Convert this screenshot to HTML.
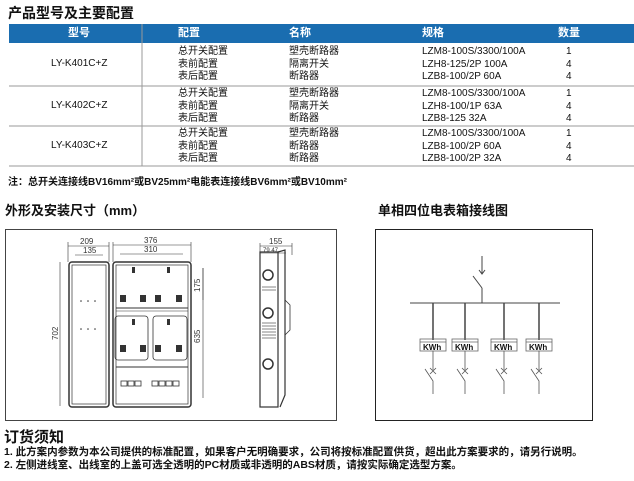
<!DOCTYPE html>
<html><head><meta charset="utf-8"><style>
body{margin:0;width:634px;height:481px;background:#fff;position:relative;overflow:hidden;font-family:"Liberation Sans","Noto Sans CJK SC",sans-serif;color:#111}
.t{position:absolute;white-space:nowrap;line-height:1}
.h{font-weight:bold}
.s{font-size:10px}
</style></head><body>
<div class="t h" style="left:8px;top:6px;font-size:14px">产品型号及主要配置</div>
<div style="position:absolute;left:9px;top:24px;width:625px;height:19px;background:#1a6db0"></div>
<div class="t h s" style="left:68px;top:28px;color:#fff;font-size:11px">型号</div>
<div class="t h s" style="left:178px;top:28px;color:#fff;font-size:11px">配置</div>
<div class="t h s" style="left:289px;top:28px;color:#fff;font-size:11px">名称</div>
<div class="t h s" style="left:422px;top:28px;color:#fff;font-size:11px">规格</div>
<div class="t h s" style="left:558px;top:28px;color:#fff;font-size:11px">数量</div>
<svg style="position:absolute;left:0;top:0" width="634" height="481">
<line x1="142" y1="24" x2="142" y2="166" stroke="#999"/>
<line x1="9" y1="86" x2="634" y2="86" stroke="#999"/>
<line x1="9" y1="126" x2="634" y2="126" stroke="#999"/>
<line x1="9" y1="166" x2="634" y2="166" stroke="#999"/>
</svg>
<div class="t s" style="left:51px;top:59px">LY-K401C+Z</div>
<div class="t s" style="left:51px;top:101px">LY-K402C+Z</div>
<div class="t s" style="left:51px;top:141px">LY-K403C+Z</div>
<div class="t s" style="left:178px;top:46px;line-height:12.5px">总开关配置<br>表前配置<br>表后配置</div>
<div class="t s" style="left:289px;top:46px;line-height:12.5px">塑壳断路器<br>隔离开关<br>断路器</div>
<div class="t s" style="left:422px;top:46px;line-height:12.5px">LZM8-100S/3300/100A<br>LZH8-125/2P 100A<br>LZB8-100/2P 60A</div>
<div class="t s" style="left:566px;top:46px;line-height:12.5px">1<br>4<br>4</div>
<div class="t s" style="left:178px;top:88px;line-height:12.5px">总开关配置<br>表前配置<br>表后配置</div>
<div class="t s" style="left:289px;top:88px;line-height:12.5px">塑壳断路器<br>隔离开关<br>断路器</div>
<div class="t s" style="left:422px;top:88px;line-height:12.5px">LZM8-100S/3300/100A<br>LZH8-100/1P 63A<br>LZB8-125 32A</div>
<div class="t s" style="left:566px;top:88px;line-height:12.5px">1<br>4<br>4</div>
<div class="t s" style="left:178px;top:128px;line-height:12.5px">总开关配置<br>表前配置<br>表后配置</div>
<div class="t s" style="left:289px;top:128px;line-height:12.5px">塑壳断路器<br>断路器<br>断路器</div>
<div class="t s" style="left:422px;top:128px;line-height:12.5px">LZM8-100S/3300/100A<br>LZB8-100/2P 60A<br>LZB8-100/2P 32A</div>
<div class="t s" style="left:566px;top:128px;line-height:12.5px">1<br>4<br>4</div>
<div class="t h" style="left:8px;top:178px;font-size:10px">注：总开关连接线BV16mm²或BV25mm²电能表连接线BV6mm²或BV10mm²</div>
<div class="t h" style="left:5px;top:204px;font-size:13px">外形及安装尺寸（mm）</div>
<div class="t h" style="left:378px;top:204px;font-size:13px">单相四位电表箱接线图</div>
<svg style="position:absolute;left:0;top:0" width="634" height="481" font-family="Liberation Sans" font-size="8" fill="none" stroke="#333">
<rect x="5.5" y="229.5" width="331" height="191" stroke="#444"/>
<rect x="375.5" y="229.5" width="217" height="191" stroke="#222"/>
<rect x="69" y="262" width="40" height="145" rx="3" stroke-width="1.5"/>
<rect x="72" y="265" width="34" height="139" stroke-width="0.7"/>
<rect x="113" y="262" width="78" height="145" rx="3" stroke-width="1.5"/>
<rect x="116" y="265" width="72" height="139" stroke-width="0.7"/>
<line x1="116" y1="308" x2="188" y2="308"/><line x1="116" y1="311" x2="188" y2="311" stroke-width="0.5"/>
<line x1="116" y1="367" x2="188" y2="367"/>
<rect x="115" y="316" width="33" height="44" rx="3" stroke-width="0.8"/>
<rect x="153" y="316" width="34" height="44" rx="3" stroke-width="0.8"/>
<g fill="#333" stroke="none">
<rect x="120" y="295" width="6" height="7"/><rect x="140" y="295" width="6" height="7"/><rect x="155" y="295" width="6" height="7"/><rect x="176" y="295" width="6" height="7"/>
<rect x="120" y="345" width="6" height="7"/><rect x="140" y="345" width="6" height="7"/><rect x="155" y="345" width="6" height="7"/><rect x="176" y="345" width="6" height="7"/>
<rect x="132" y="267" width="3" height="6"/><rect x="167" y="267" width="3" height="6"/>
<rect x="132" y="319" width="3" height="6"/><rect x="167" y="319" width="3" height="6"/>
<circle cx="81" cy="301" r="0.8"/><circle cx="88" cy="301" r="0.8"/><circle cx="95" cy="301" r="0.8"/>
<circle cx="81" cy="329" r="0.8"/><circle cx="88" cy="329" r="0.8"/><circle cx="95" cy="329" r="0.8"/>
</g>
<g stroke-width="0.8"><rect x="121" y="381" width="6" height="5"/><rect x="128" y="381" width="6" height="5"/><rect x="135" y="381" width="6" height="5"/>
<rect x="152" y="381" width="6" height="5"/><rect x="159" y="381" width="6" height="5"/><rect x="166" y="381" width="6" height="5"/><rect x="173" y="381" width="6" height="5"/></g>
<g stroke-width="0.6">
<line x1="68" y1="246" x2="109" y2="246"/><line x1="75" y1="255" x2="103" y2="255"/>
<line x1="113" y1="245" x2="191" y2="245"/><line x1="120" y1="254" x2="183" y2="254"/>
<line x1="60" y1="262" x2="60" y2="406"/><line x1="203" y1="268" x2="203" y2="300"/><line x1="203" y1="268" x2="203" y2="398"/>
<line x1="68" y1="242" x2="68" y2="262"/><line x1="109" y1="242" x2="109" y2="262"/><line x1="113" y1="242" x2="113" y2="262"/><line x1="191" y1="242" x2="191" y2="262"/>
<line x1="260" y1="246" x2="292" y2="246"/><line x1="260" y1="253" x2="286" y2="253"/>
<line x1="260" y1="243" x2="260" y2="255"/><line x1="292" y1="243" x2="292" y2="255"/>
</g>
<g fill="#333" stroke="none" font-size="8">
<text x="80" y="244">209</text><text x="83" y="253">135</text>
<text x="144" y="243">376</text><text x="144" y="252">310</text>
<text x="269" y="244">155</text><text x="263" y="252" font-size="6">79 47</text>
<text transform="translate(58,340) rotate(-90)">702</text>
<text transform="translate(200,292) rotate(-90)">175</text>
<text transform="translate(200,343) rotate(-90)">635</text>
</g>
<rect x="260" y="252" width="18" height="155" stroke-width="1.2"/>
<path d="M278 252 L285 250 L285 395 L280 407" stroke-width="1.2"/>
<path d="M285 300 L290 305 L290 330 L285 335" stroke-width="0.8"/>
<g stroke-width="1.5"><circle cx="268" cy="275" r="5"/><circle cx="268" cy="313" r="5"/><circle cx="268" cy="364" r="5"/></g>
<g stroke-width="0.6"><line x1="262" y1="287" x2="276" y2="287"/><line x1="262" y1="290" x2="276" y2="290"/>
<line x1="262" y1="323" x2="276" y2="323"/><line x1="262" y1="326" x2="276" y2="326"/><line x1="262" y1="329" x2="276" y2="329"/><line x1="262" y1="332" x2="276" y2="332"/><line x1="262" y1="335" x2="276" y2="335"/><line x1="262" y1="338" x2="276" y2="338"/></g>
<g stroke="#444" stroke-width="1">
<line x1="482" y1="256" x2="482" y2="274"/><path d="M479 270 L482 274 L485 270"/>
<line x1="473" y1="276" x2="482" y2="288"/><line x1="482" y1="288" x2="482" y2="303"/>
<line x1="410" y1="303" x2="560" y2="303"/>
<line x1="433" y1="303" x2="433" y2="340" stroke-width="1.5"/><line x1="465" y1="303" x2="465" y2="340" stroke-width="1.5"/>
<line x1="504" y1="303" x2="504" y2="340" stroke-width="1.5"/><line x1="539" y1="303" x2="539" y2="340" stroke-width="1.5"/>
</g>
<g stroke="#666" stroke-width="0.8">
<rect x="420" y="339" width="26" height="12"/><rect x="452" y="339" width="26" height="12"/><rect x="491" y="339" width="26" height="12"/><rect x="526" y="339" width="26" height="12"/>
<line x1="420" y1="342" x2="446" y2="342"/><line x1="452" y1="342" x2="478" y2="342"/><line x1="491" y1="342" x2="517" y2="342"/><line x1="526" y1="342" x2="552" y2="342"/>
</g>
<g fill="#111" stroke="none" font-size="8" font-weight="bold">
<text x="423" y="350">KWh</text><text x="455" y="350">KWh</text><text x="494" y="350">KWh</text><text x="529" y="350">KWh</text>
</g>
<g stroke="#555" stroke-width="0.8">
<path d="M433 351 V370 M430 368 L436 374 M436 368 L430 374 M425 369 L433 381 V394"/>
<path d="M465 351 V370 M462 368 L468 374 M468 368 L462 374 M457 369 L465 381 V394"/>
<path d="M504 351 V370 M501 368 L507 374 M507 368 L501 374 M496 369 L504 381 V394"/>
<path d="M539 351 V370 M536 368 L542 374 M542 368 L536 374 M531 369 L539 381 V394"/>
</g>
</svg>
<div class="t h" style="left:4px;top:430px;font-size:15px">订货须知</div>
<div class="t h" style="left:4px;top:447px;font-size:10.5px">1. 此方案内参数为本公司提供的标准配置，如果客户无明确要求，公司将按标准配置供货，超出此方案要求的，请另行说明。</div>
<div class="t h" style="left:4px;top:460px;font-size:10.5px">2. 左侧进线室、出线室的上盖可选全透明的PC材质或非透明的ABS材质，请按实际确定选型方案。</div>
</body></html>
